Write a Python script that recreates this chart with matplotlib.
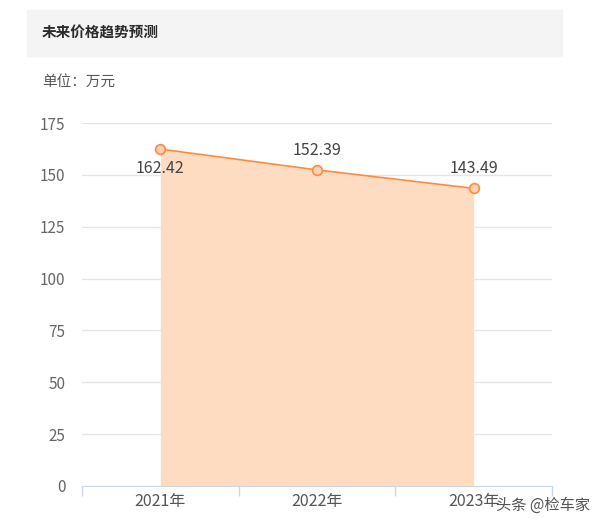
import matplotlib
matplotlib.use('Agg')
import matplotlib.pyplot as plt
import numpy as np

plt.rcParams['font.family'] = ['Noto Sans CJK SC', 'DejaVu Sans']

years = ['2021年', '2022年', '2023年']
prices = [162.42, 152.39, 143.49]
yticks = [0, 25, 50, 75, 100, 125, 150, 175]
label_below = [True, False, False]

line_color = '#ff8a3d'
fill_color = '#fddcc2'

fig = plt.figure(figsize=(6, 5.25), dpi=100)

# header box
fig.patches.append(plt.Rectangle((27 / 600, 1 - 56 / 525), 535 / 600, 46 / 525,
                                 transform=fig.transFigure, color='#f4f4f4', zorder=0))
fig.text(42 / 600, 1 - 33 / 525, '未来价格趋势预测', fontsize=10.5, fontweight='bold',
         color='#2b2b2b', va='center', ha='left')
fig.text(42 / 600, 1 - 82 / 525, '单位：万元', fontsize=10.5, color='#555555',
         va='center', ha='left')

ax = fig.add_axes([82 / 600, 1 - 486 / 525, 470 / 600, 363 / 525])
x = np.arange(len(years))
ax.fill_between(x, prices, 0, color=fill_color, linewidth=0, zorder=1)
ax.plot(x, prices, color=line_color, linewidth=1.2, zorder=3,
        marker='o', markersize=7, markerfacecolor='#fdd0b0',
        markeredgecolor=line_color, markeredgewidth=1.2)

for xi, v, below in zip(x, prices, label_below):
    ax.annotate(f'{v:.2f}', (xi, v), xytext=(0, -8 if below else 8),
                textcoords='offset points', ha='center',
                va='top' if below else 'bottom', fontsize=11.5, color='#444444', zorder=4)

ax.set_xlim(-0.5, len(years) - 0.5)
ax.set_ylim(0, 175)
ax.set_yticks(yticks)
ax.set_xticks(x)
ax.set_xticklabels(years)
ax.set_xticks(np.arange(len(years) + 1) - 0.5, minor=True)
ax.grid(axis='y', color='#e6e6e6', linewidth=1, zorder=0)
ax.set_axisbelow(True)
for s in ['top', 'right', 'left']:
    ax.spines[s].set_visible(False)
ax.spines['bottom'].set_color('#ccd6eb')
ax.tick_params(axis='y', length=0, labelsize=11, labelcolor='#666666', pad=12)
ax.tick_params(axis='x', which='major', length=0, labelsize=11.5, labelcolor='#555555', pad=5)
ax.tick_params(axis='x', which='minor', length=7, color='#ccd6eb', width=1)

fig.text(590 / 600, 1 - 505 / 525, '头条 @检车家', fontsize=11, color='#555555',
         ha='right', va='center')

fig.savefig('out.png', dpi=100)
